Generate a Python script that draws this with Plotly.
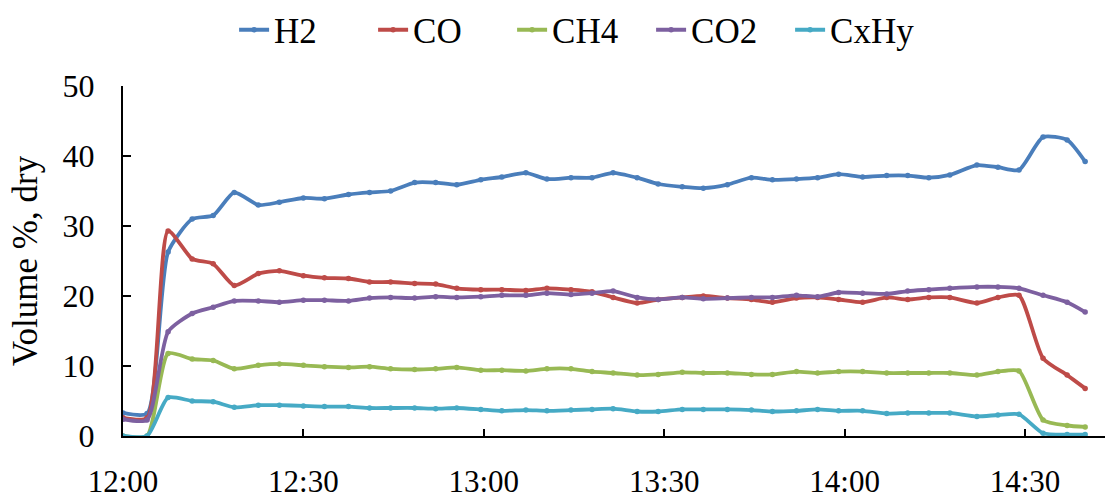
import plotly.graph_objects as go

# Time in minutes after 12:00
minutes = [0, 4, 7.5, 11.5, 15, 18.5, 22.5, 26, 30, 33.5, 37.5, 41, 44.5, 48.5, 52,
           55.5, 59.5, 63, 67, 70.5, 74.5, 78, 81.5, 85.5, 89, 93, 96.5, 100.5, 104.5,
           108, 112, 115.5, 119, 123, 127, 130.5, 134, 137.5, 142, 145.5, 149, 153, 157, 160]

h2 = [3.3, 3.2, 26.3, 31.0, 31.5, 34.8, 33.0, 33.4, 34.0, 33.9, 34.5, 34.8, 35.0, 36.2, 36.2,
      35.9, 36.6, 37.0, 37.6, 36.7, 36.9, 36.9, 37.6, 36.9, 36.0, 35.6, 35.4, 35.9, 36.9,
      36.6, 36.7, 36.9, 37.4, 37.0, 37.2, 37.2, 36.9, 37.3, 38.7, 38.4, 38.0, 42.7, 42.3, 39.2]

co = [2.6, 2.6, 29.3, 25.3, 24.6, 21.5, 23.2, 23.6, 22.9, 22.6, 22.5, 22.0, 22.0, 21.8, 21.7,
      21.1, 20.9, 20.9, 20.8, 21.1, 20.9, 20.6, 19.8, 19.0, 19.5, 19.8, 20.0, 19.7, 19.5,
      19.1, 19.7, 19.8, 19.5, 19.1, 19.8, 19.5, 19.8, 19.8, 19.0, 19.8, 20.1, 11.1, 8.7, 6.8]

ch4 = [0.0, 0.0, 11.8, 11.0, 10.8, 9.6, 10.1, 10.3, 10.1, 9.9, 9.8, 9.9, 9.6, 9.5, 9.6,
       9.8, 9.4, 9.4, 9.3, 9.6, 9.6, 9.2, 9.0, 8.7, 8.8, 9.1, 9.0, 9.0, 8.8,
       8.8, 9.2, 9.0, 9.2, 9.2, 9.0, 9.0, 9.0, 9.0, 8.7, 9.2, 9.3, 2.3, 1.5, 1.3]

co2 = [2.4, 2.3, 14.9, 17.5, 18.4, 19.3, 19.3, 19.1, 19.4, 19.4, 19.3, 19.7, 19.8, 19.7, 19.9,
       19.8, 19.9, 20.1, 20.1, 20.4, 20.2, 20.4, 20.7, 19.8, 19.5, 19.8, 19.6, 19.7, 19.8,
       19.8, 20.1, 19.9, 20.5, 20.4, 20.3, 20.7, 20.9, 21.1, 21.3, 21.3, 21.1, 20.1, 19.1, 17.7]

cxhy = [0.0, 0.0, 5.5, 5.0, 4.9, 4.1, 4.4, 4.4, 4.3, 4.2, 4.2, 4.0, 4.0, 4.0, 3.9,
        4.0, 3.8, 3.6, 3.7, 3.6, 3.7, 3.8, 3.9, 3.5, 3.5, 3.8, 3.8, 3.8, 3.7,
        3.5, 3.6, 3.8, 3.6, 3.6, 3.2, 3.3, 3.3, 3.3, 2.8, 3.0, 3.1, 0.4, 0.2, 0.2]

tick_minutes = [0, 30, 60, 90, 120, 150]
tick_labels = ["12:00", "12:30", "13:00", "13:30", "14:00", "14:30"]
y_ticks = [0, 10, 20, 30, 40, 50]

series = [
    ("H2", h2, "#4A7EBB"),
    ("CO", co, "#BE4B48"),
    ("CH4", ch4, "#98B954"),
    ("CO2", co2, "#7D60A0"),
    ("CxHy", cxhy, "#46AAC5"),
]

FONT = "Liberation Serif"

fig = go.Figure()
for name, vals, color in series:
    fig.add_trace(go.Scatter(
        x=minutes, y=vals, name=name, mode="lines+markers",
        line=dict(color=color, width=3.8, shape="spline", smoothing=0.6),
        marker=dict(color=color, size=5.5),
    ))

fig.update_layout(
    width=1107, height=502,
    margin=dict(l=123, r=2, t=86, b=66, autoexpand=False),
    paper_bgcolor="white", plot_bgcolor="white",
    font=dict(family=FONT, size=32, color="black"),
    showlegend=True,
    legend=dict(orientation="h", x=0.467, xanchor="center", y=1.16, yanchor="middle",
                font=dict(family=FONT, size=35, color="black"),
                itemwidth=30, entrywidth=94, entrywidthmode="pixels",
                tracegroupgap=0, bgcolor="rgba(0,0,0,0)"),
    xaxis=dict(range=[0, 163.3], tickvals=tick_minutes, ticktext=tick_labels,
               showgrid=False, zeroline=False, showline=True, linecolor="black", linewidth=2,
               ticks="inside", ticklen=7, tickwidth=2, tickcolor="black", automargin=False,
               ticklabelstandoff=17, tickfont=dict(family=FONT, size=31)),
    yaxis=dict(range=[0, 50], tickvals=y_ticks, showgrid=False, zeroline=False,
               showline=True, linecolor="black", linewidth=2, automargin=False,
               ticks="inside", ticklen=8, tickwidth=2, tickcolor="black",
               ticklabelstandoff=20, tickfont=dict(family=FONT, size=32),
               title=dict(text="Volume %, dry", font=dict(family=FONT, size=35), standoff=14)),
)

fig.write_html("out.html")
